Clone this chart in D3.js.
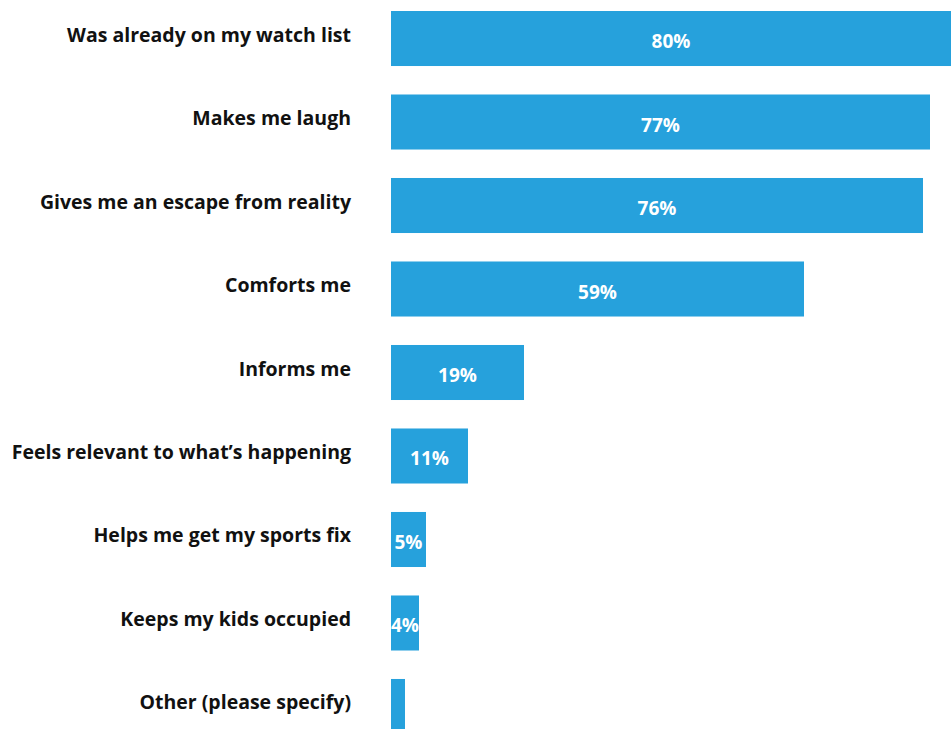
<!DOCTYPE html>
<html>
<head>
<meta charset="utf-8">
<script src="https://cdn.jsdelivr.net/npm/d3@7"></script>
<style>
  html, body { margin: 0; padding: 0; background: #ffffff; overflow: hidden; }
  svg { display: block; }
  .cat { font-family: "Open Sans", Lato, sans-serif; font-weight: 700; font-size: 19.5px; fill: #111111; }
  .val { font-family: "Open Sans", Lato, sans-serif; font-weight: 700; font-size: 19px; fill: #ffffff; }
</style>
</head>
<body>
<svg id="chart" width="951" height="729"></svg>
<script>
// Reasons for choosing what to watch (share of respondents, %)
const categories = [
  "Was already on my watch list",
  "Makes me laugh",
  "Gives me an escape from reality",
  "Comforts me",
  "Informs me",
  "Feels relevant to what\u2019s happening",
  "Helps me get my sports fix",
  "Keeps my kids occupied",
  "Other (please specify)"
];
const values = [80, 77, 76, 59, 19, 11, 5, 4, 2];
// Value labels shown inside the bars (the smallest bar carries none)
const valueLabels = ["80%", "77%", "76%", "59%", "19%", "11%", "5%", "4%", ""];

const svg = d3.select("#chart");

const x = d3.scaleLinear().domain([0, 80]).range([391, 951]);
const y = d3.scaleBand()
  .domain(categories)
  .range([11, 734])
  .paddingInner(0.341)
  .paddingOuter(0);

const rows = categories.map((c, i) => ({ cat: c, v: values[i], lab: valueLabels[i] }));

svg.append("g").selectAll("rect")
  .data(rows)
  .join("rect")
  .attr("x", x(0))
  .attr("y", d => y(d.cat))
  .attr("width", d => x(d.v) - x(0))
  .attr("height", y.bandwidth())
  .attr("fill", "#26a1dc");

// Category labels, right-aligned left of the bars
svg.append("g").selectAll("text")
  .data(rows)
  .join("text")
  .attr("class", "cat")
  .attr("x", 351)
  .attr("y", d => y(d.cat) + y.bandwidth() / 2 + 3)
  .attr("text-anchor", "end")
  .text(d => d.cat);

// Percent labels centred in each bar
svg.append("g").selectAll("text")
  .data(rows.filter(d => d.lab))
  .join("text")
  .attr("class", "val")
  .attr("x", d => (x(0) + x(d.v)) / 2)
  .attr("y", d => y(d.cat) + y.bandwidth() / 2 + 9.5)
  .attr("text-anchor", "middle")
  .text(d => d.lab);
</script>
</body>
</html>
